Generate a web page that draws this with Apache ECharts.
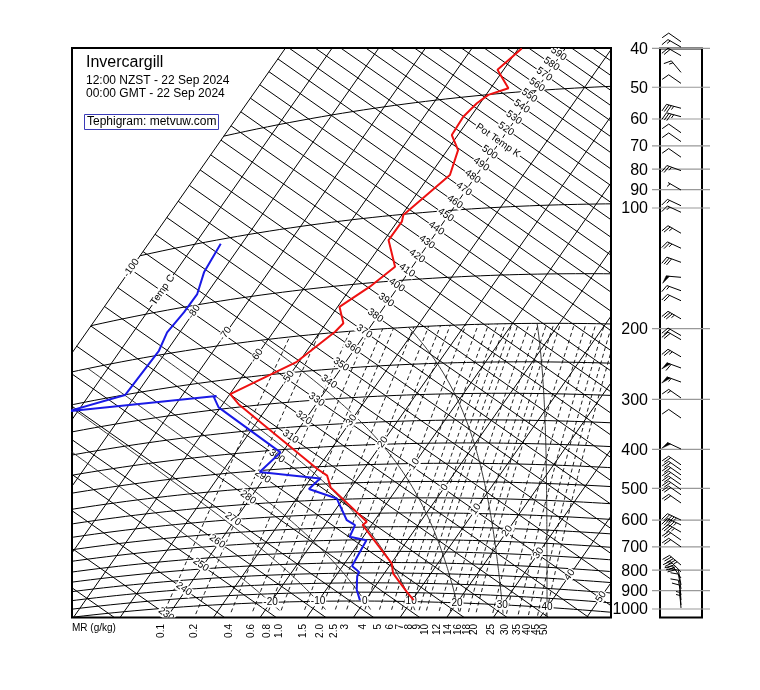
<!DOCTYPE html>
<html><head><meta charset="utf-8">
<script src="https://cdn.jsdelivr.net/npm/echarts@6/dist/echarts.min.js"></script>
<style>html,body{margin:0;padding:0;background:#fff}#c{width:760px;height:690px}</style>
</head><body><div id="c"></div>
<script>
// ---------------- DATA ----------------
const tempP = [991, 946, 852, 804, 642, 630, 511, 476, 456, 294.5, 274.9, 234.6, 199, 189.7, 171, 153.6, 137.6, 116.3, 104.6, 100.4, 80.5, 69.3, 62.9, 56.5, 52.4, 50.1, 48.6, 43.1, 38.3];
const tempT = [10.3, 7.6, 1.9, 0.1, -11.9, -11.5, -24.4, -26.9, -30.0, -56.6, -59.9, -50.5, -46.8, -46.3, -49.6, -46.1, -43.7, -49.1, -49.0, -49.7, -45.7, -47.7, -51.3, -51.6, -50.7, -49.5, -46.2, -51.3, -49.3];
const dewP = [995, 938, 865, 845, 816, 702, 687, 642, 623, 547, 513, 483, 454, 406.6, 296.3, 277, 275, 260, 250.5, 194.4, 173.8, 155.3, 139.7, 122, 103];
const dewT = [-1.2, -3.4, -5.4, -5.6, -8.0, -8.8, -12.9, -13.5, -16.0, -21.4, -28.8, -28.0, -41.9, -40.4, -60.4, -62.9, -62.6, -92, -82.3, -81.7, -82.7, -82.1, -82.0, -83.8, -84.5];
const windP = [38.5, 39.7, 41.7, 45.9, 48.9, 56.4, 59.2, 64.9, 68.3, 74.7, 80.7, 90.2, 98.7, 102.5, 115.6, 126, 136.6, 148.9, 160.8, 170.3, 189, 208, 213, 235, 250.6, 271.7, 297.7, 334, 399, 437, 450, 463, 476, 490, 504, 519, 544, 600, 617, 643, 673, 700, 777, 808, 837, 871, 891, 923, 950, 977, 994];
const windDir = [305, 300, 300, 320, 305, 285, 285, 305, 305, 305, 290, 300, 295, 295, 300, 295, 290, 275, 290, 295, 300, 300, 300, 300, 290, 290, 305, 305, 295, 305, 305, 305, 305, 305, 305, 305, 305, 295, 295, 300, 305, 305, 310, 315, 325, 350, 350, 350, 355, 355, 355];
const windSpd = [10, 15, 20, 15, 10, 35, 35, 10, 10, 10, 25, 5, 15, 15, 25, 25, 30, 50, 15, 20, 35, 20, 20, 25, 60, 55, 15, 10, 50, 20, 20, 20, 20, 20, 20, 20, 20, 45, 45, 35, 20, 20, 45, 40, 30, 10, 10, 10, 10, 5, 5];
const pressLabels = [40, 50, 60, 70, 80, 90, 100, 200, 300, 400, 500, 600, 700, 800, 900, 1000];
const isobarP = [50, 100, 150, 200, 250, 300, 350, 400, 450, 500, 550, 600, 650, 700, 750, 800, 850, 900, 950, 1000];
const mrValues = [0.1, 0.2, 0.4, 0.6, 0.8, 1.0, 1.5, 2.0, 2.5, 3, 4, 5, 6, 7, 8, 9, 10, 12, 14, 16, 18, 20, 25, 30, 35, 40, 45, 50];
const mrLabels = ['0.1','0.2','0.4','0.6','0.8','1.0','1.5','2.0','2.5','3','4','5','6','7','8','9','10','12','14','16','18','20','25','30','35','40','45','50'];
const moistThw = [-20, -10, 0, 10, 20, 30, 40];
const bottomTLabels = [-20, -10, 0, 10, 20, 30, 40];

// ---------------- TEPHIGRAM TRANSFORM ----------------
const KAP = 0.29, CA = 0.8192, SA = 0.5736;
function tq(Tc, th){ const s = 643.6 + 3.822*Tc, q = -4357.6 + 726.3*Math.log(th); return [CA*s + SA*q, SA*s - CA*q]; }
function tp(Tc, p){ return tq(Tc, (Tc + 273.15)*Math.pow(1000/p, KAP)); }
function es(T){ return 6.112*Math.exp(17.67*T/(T + 243.5)); }
function rs(T, p){ const e = es(T); return 0.622*e/(p - e); }
function dTdp(T, p){ const Tk = T + 273.15, r = rs(T, p), Rd = 287.04, cp = 1005.7, L = 2.501e6;
  return (Rd*Tk + L*r)/(p*(cp + L*L*r*0.622/(Rd*Tk*Tk))); }
function tFromW(w, p){ const x = w/1000, e = x*p/(0.622 + x), l = Math.log(e/6.112); return 243.5*l/(17.67 - l); }
function moist(thw){
  function run(p0, p1, dp){ const out = []; let T = thw, p = p0; out.push([T, p]);
    while ((dp < 0 && p > p1) || (dp > 0 && p < p1)) {
      const k1 = dTdp(T, p), k2 = dTdp(T + k1*dp/2, p + dp/2), k3 = dTdp(T + k2*dp/2, p + dp/2), k4 = dTdp(T + k3*dp, p + dp);
      T += dp*(k1 + 2*k2 + 2*k3 + k4)/6; p += dp; out.push([T, p]); }
    return out; }
  return run(1000, 1050, 5).reverse().concat(run(1000, 200, -5).slice(1));
}

const series = [];
function addLine(pts, style, z){ series.push({type:'line', xAxisIndex:0, yAxisIndex:0, data:pts, symbol:'none', silent:true, animation:false, clip:true, z:z||2, lineStyle:style}); }
const gridStyle = {color:'#000', width:1};
for (let T = -100; T <= 60; T += 10) addLine([tq(T, 170), tq(T, 700)], gridStyle);
for (let th = 200; th <= 660; th += 10) addLine([tq(-100, th), tq(75, th)], gridStyle);
isobarP.forEach(p => { const pts = []; for (let T = -100; T <= 70; T += 2) pts.push(tp(T, p)); addLine(pts, gridStyle); });
mrValues.forEach(w => { const pts = []; for (let p = 1050; p >= 200; p -= 10) pts.push(tp(tFromW(w, p), p)); addLine(pts, {color:'#000', width:0.9, type:[4,3]}); });
moistThw.forEach(t => { addLine(moist(t).map(d => tp(d[0], d[1])), {color:'#222', width:0.9}); });

// labels
const FONT = '"Liberation Sans", Arial, Helvetica, sans-serif';
function textSeries(items, clip, ax, z){
  return {type:'custom', xAxisIndex:ax, yAxisIndex:ax, silent:true, animation:false, z:z||5,
    data: items.map(d => [d.x, d.y]),
    renderItem(params, api){
      const d = items[params.dataIndex];
      const pt = api.coord([api.value(0), api.value(1)]);
      const el = {type:'text', x:pt[0], y:pt[1], rotation:d.rot || 0,
        style:{text:d.text, fill:'#000', fontSize:d.fs || 10, fontFamily:FONT, align:d.align || 'center', verticalAlign:'middle',
          backgroundColor:d.bg || null, padding:d.bg ? [0,1] : 0}};
      if (!clip) return el;
      const c = params.coordSys;
      return {type:'group', children:[el], clipPath:{type:'rect', shape:{x:c.x, y:c.y, width:c.width, height:c.height}}};
    }};
}
const plotLabels = [];
for (let th = 230; th <= 590; th += 10) { const xy = tq(-40.6, th); plotLabels.push({x:xy[0], y:xy[1], text: th === 510 ? 'Pot Temp K' : String(th), rot:-35*Math.PI/180, bg:'#fff'}); }
for (let T = -100; T <= 50; T += 10) { if (T === -40) continue; const xy = tq(T, 330.7); plotLabels.push({x:xy[0], y:xy[1], text: T === -90 ? 'Temp C' : String(T), rot:55*Math.PI/180, bg:'#fff'}); }
bottomTLabels.forEach(T => { const xy = tp(T, 1000); plotLabels.push({x:xy[0], y:xy[1], text:String(T), bg:'#fff'}); });
series.push(textSeries(plotLabels, true, 0, 5));
const mrItems = mrValues.map((w, i) => { const xy = tp(tFromW(w, 1050), 1050); return {x:xy[0] - 1.5, y:624, text:mrLabels[i], rot:Math.PI/2, align:'right'}; });
mrItems.push({x:72, y:628, text:'MR (g/kg)', align:'left'});
series.push(textSeries(mrItems, false, 0, 5));

// profiles
addLine(tempP.map((p, i) => tp(tempT[i], p)), {color:'#ee1111', width:2}, 10);
addLine(dewP.map((p, i) => tp(dewT[i], p)), {color:'#1a1ae6', width:2}, 10);

// pressure labels + tick lines on right panel
series.push({type:'custom', xAxisIndex:1, yAxisIndex:1, silent:true, animation:false, z:3,
  data: pressLabels.map(p => [0, Math.log10(p)]),
  renderItem(params, api){
    const p = pressLabels[params.dataIndex];
    const a = api.coord([-8, Math.log10(p)]), b = api.coord([50, Math.log10(p)]), t = api.coord([-10, Math.log10(p)]);
    return {type:'group', children:[
      {type:'line', shape:{x1:a[0], y1:a[1], x2:b[0], y2:b[1]}, style:{stroke:'#999', lineWidth:1.2}},
      {type:'text', x:t[0] - 2, y:t[1] + 1, style:{text:String(p), fontSize:16, fontFamily:FONT, fill:'#000', align:'right', verticalAlign:'middle'}}]};
  }});
// wind barbs
series.push({type:'custom', xAxisIndex:1, yAxisIndex:1, silent:true, animation:false, z:6,
  data: windP.map(p => [21, Math.log10(p)]),
  renderItem(params, api){
    const i = params.dataIndex;
    const b = api.coord([api.value(0), api.value(1)]);
    const r = windDir[i]*Math.PI/180, u = [Math.sin(r), -Math.cos(r)], Ls = 15, Lf = 8;
    const tip = [b[0] + u[0]*Ls, b[1] + u[1]*Ls];
    const perp = [u[1], -u[0]], a = 20*Math.PI/180;
    const f = [perp[0]*Math.cos(a) + u[0]*Math.sin(a), perp[1]*Math.cos(a) + u[1]*Math.sin(a)];
    const st = {stroke:'#000', lineWidth:1};
    const ch = [{type:'line', shape:{x1:b[0], y1:b[1], x2:tip[0], y2:tip[1]}, style:st}];
    let s = Math.round(windSpd[i]/5)*5, pos = 0;
    const P = d => [tip[0] - u[0]*d, tip[1] - u[1]*d];
    while (s >= 50) { const p0 = P(pos), p1 = P(pos + 3.5);
      ch.push({type:'polygon', shape:{points:[p0, p1, [p0[0] + f[0]*Lf, p0[1] + f[1]*Lf]]}, style:{fill:'#000', stroke:'#000', lineWidth:0.5}});
      pos += 4.5; s -= 50; }
    while (s >= 10) { const p0 = P(pos); ch.push({type:'line', shape:{x1:p0[0], y1:p0[1], x2:p0[0] + f[0]*Lf, y2:p0[1] + f[1]*Lf}, style:st}); pos += 2.5; s -= 10; }
    if (s >= 5) { if (pos === 0) pos = 2.5; const p0 = P(pos); ch.push({type:'line', shape:{x1:p0[0], y1:p0[1], x2:p0[0] + f[0]*Lf/2, y2:p0[1] + f[1]*Lf/2}, style:st}); }
    return {type:'group', children:ch};
  }});

const chart = echarts.init(document.getElementById('c'), null, {renderer:'canvas'});
chart.setOption({
  animation:false,
  backgroundColor:'#fff',
  grid:[
    {left:72, top:48, width:539, height:569.5, show:true, borderColor:'#000', borderWidth:2, backgroundColor:'transparent'},
    {left:660, top:48.4, width:42, height:569.1, show:true, borderColor:'#000', borderWidth:2, backgroundColor:'transparent'}
  ],
  xAxis:[
    {type:'value', gridIndex:0, min:72, max:611, show:false},
    {type:'value', gridIndex:1, min:0, max:42, show:false}
  ],
  yAxis:[
    {type:'value', gridIndex:0, min:48, max:617.5, inverse:true, show:false},
    {type:'value', gridIndex:1, min:Math.log10(40), max:Math.log10(1050), inverse:true, show:false}
  ],
  graphic:[
    {type:'text', left:86, top:55, style:{text:'Invercargill', fontSize:16, fontFamily:FONT, fill:'#000'}},
    {type:'text', left:86, top:75, style:{text:'12:00 NZST - 22 Sep 2024', fontSize:12, fontFamily:FONT, fill:'#000'}},
    {type:'text', left:86, top:88, style:{text:'00:00 GMT - 22 Sep 2024', fontSize:12, fontFamily:FONT, fill:'#000'}},
    {type:'rect', left:84, top:114, shape:{width:134, height:15}, style:{fill:'#fff', stroke:'#3a3ab8', lineWidth:1}},
    {type:'text', left:87, top:115.5, style:{text:'Tephigram: metvuw.com', fontSize:12, fontFamily:FONT, fill:'#000'}}
  ],
  series:series
});
</script></body></html>
